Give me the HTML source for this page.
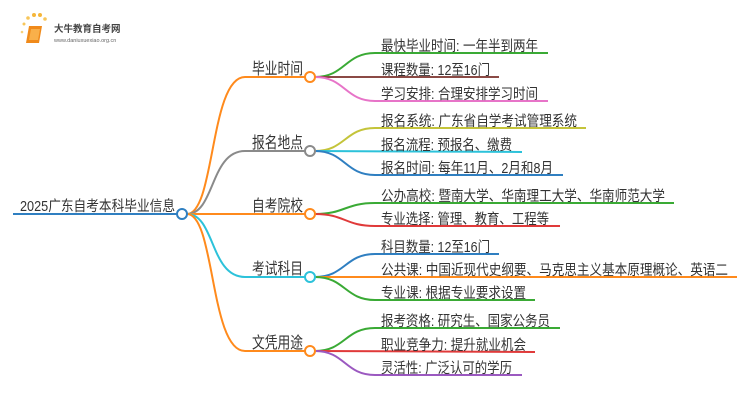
<!DOCTYPE html>
<html><head><meta charset="utf-8"><style>
html,body{margin:0;padding:0;background:#fff;}
svg{display:block;font-family:"Liberation Sans","Noto Sans CJK SC",sans-serif;}
.l{font-size:14.5px;fill:#333;}
.b{font-size:16px;fill:#333;}
</style></head><body>
<svg width="750" height="410" viewBox="0 0 750 410" xmlns="http://www.w3.org/2000/svg">
<g>
<circle cx="24" cy="24" r="1.5" fill="#f7c65a"/><circle cx="28" cy="18" r="1.8" fill="#f7c65a"/><circle cx="34" cy="15" r="2" fill="#f5b63a"/><circle cx="40" cy="15" r="2" fill="#f5b63a"/><circle cx="45" cy="19" r="1.8" fill="#f7c65a"/><circle cx="22" cy="32" r="1.3" fill="#f7d07a"/>
<path d="M29 26 L42 26 L39 43 L26 43 Z" fill="#f08a1a"/>
<path d="M31 29 L40 29 L38 40 L29 40 Z" fill="#f9b04a"/>
<text x="54" y="32" font-size="9.5" font-weight="bold" fill="#444">大牛教育自考网</text>
<text x="54" y="42" font-size="5.5" fill="#666">www.daniuxuexiao.org.cn</text>
</g>
<g fill="none" stroke-width="2">
<line x1="13" y1="214" x2="177" y2="214" stroke="#2f7fc1"/>
<path d="M187 214 C215 214 210 77 245 77 L305 77" stroke="#ff8a1c"/>
<path d="M187 214 C215 214 210 151 245 151 L305 151" stroke="#8a8a8a"/>
<path d="M187 214 L305 214" stroke="#ff8a1c"/>
<path d="M187 214 C215 214 210 277 245 277 L305 277" stroke="#2cc2da"/>
<path d="M187 214 C215 214 210 351 245 351 L305 351" stroke="#ff8a1c"/>
<path d="M315 77 C345 77 345 53 375 53 L548 53" stroke="#3aaa35"/>
<path d="M315 77 L499 77" stroke="#8b4a45"/>
<path d="M315 77 C345 77 345 101 375 101 L548 101" stroke="#e774c8"/>
<path d="M315 151 C345 151 345 128 375 128 L586 128" stroke="#c4c43a"/>
<path d="M315 151 L522 152" stroke="#2cc2da"/>
<path d="M315 151 C345 151 345 175 375 175 L563 175" stroke="#2f7fc1"/>
<path d="M315 214 C345 214 345 203 375 203 L674 203" stroke="#3aaa35"/>
<path d="M315 214 C345 214 345 226 375 226 L560 226" stroke="#e03a3a"/>
<path d="M315 277 C345 277 345 254 375 254 L499 254" stroke="#2f7fc1"/>
<path d="M315 277 L737 277" stroke="#ff8a1c"/>
<path d="M315 277 C345 277 345 300 375 300 L535 300" stroke="#3aaa35"/>
<path d="M315 351 C345 351 345 328 375 328 L560 328" stroke="#3aaa35"/>
<path d="M315 351 L535 352" stroke="#e03a3a"/>
<path d="M315 351 C345 351 345 375 375 375 L522 375" stroke="#9b59c0"/>
</g>
<g fill="#fff" stroke-width="2">
<circle cx="182" cy="214" r="5" stroke="#2f7fc1"/>
<circle cx="310" cy="77" r="5" stroke="#ff8a1c"/>
<circle cx="310" cy="151" r="5" stroke="#8a8a8a"/>
<circle cx="310" cy="214" r="5" stroke="#ff8a1c"/>
<circle cx="310" cy="277" r="5" stroke="#2cc2da"/>
<circle cx="310" cy="351" r="5" stroke="#ff8a1c"/>
</g>
<g lengthAdjust="spacingAndGlyphs">
<text class="l" x="20" y="211" textLength="155" lengthAdjust="spacingAndGlyphs">2025广东自考本科毕业信息</text>
<text class="b" x="252" y="74" textLength="51" lengthAdjust="spacingAndGlyphs">毕业时间</text>
<text class="b" x="252" y="148" textLength="51" lengthAdjust="spacingAndGlyphs">报名地点</text>
<text class="b" x="252" y="211" textLength="51" lengthAdjust="spacingAndGlyphs">自考院校</text>
<text class="b" x="252" y="274" textLength="51" lengthAdjust="spacingAndGlyphs">考试科目</text>
<text class="b" x="252" y="348" textLength="51" lengthAdjust="spacingAndGlyphs">文凭用途</text>
<text class="l" x="381" y="51" textLength="157" lengthAdjust="spacingAndGlyphs">最快毕业时间: 一年半到两年</text>
<text class="l" x="381" y="75" textLength="109" lengthAdjust="spacingAndGlyphs">课程数量: 12至16门</text>
<text class="l" x="381" y="99" textLength="157" lengthAdjust="spacingAndGlyphs">学习安排: 合理安排学习时间</text>
<text class="l" x="381" y="126" textLength="196" lengthAdjust="spacingAndGlyphs">报名系统: 广东省自学考试管理系统</text>
<text class="l" x="381" y="150" textLength="131" lengthAdjust="spacingAndGlyphs">报名流程: 预报名、缴费</text>
<text class="l" x="381" y="173" textLength="172" lengthAdjust="spacingAndGlyphs">报名时间: 每年11月、2月和8月</text>
<text class="l" x="381" y="201" textLength="284" lengthAdjust="spacingAndGlyphs">公办高校: 暨南大学、华南理工大学、华南师范大学</text>
<text class="l" x="381" y="224" textLength="168" lengthAdjust="spacingAndGlyphs">专业选择: 管理、教育、工程等</text>
<text class="l" x="381" y="252" textLength="109" lengthAdjust="spacingAndGlyphs">科目数量: 12至16门</text>
<text class="l" x="381" y="275" textLength="347" lengthAdjust="spacingAndGlyphs">公共课: 中国近现代史纲要、马克思主义基本原理概论、英语二</text>
<text class="l" x="381" y="298" textLength="145" lengthAdjust="spacingAndGlyphs">专业课: 根据专业要求设置</text>
<text class="l" x="381" y="326" textLength="169" lengthAdjust="spacingAndGlyphs">报考资格: 研究生、国家公务员</text>
<text class="l" x="381" y="350" textLength="145" lengthAdjust="spacingAndGlyphs">职业竞争力: 提升就业机会</text>
<text class="l" x="381" y="373" textLength="131" lengthAdjust="spacingAndGlyphs">灵活性: 广泛认可的学历</text>
</g>
</svg>
</body></html>
